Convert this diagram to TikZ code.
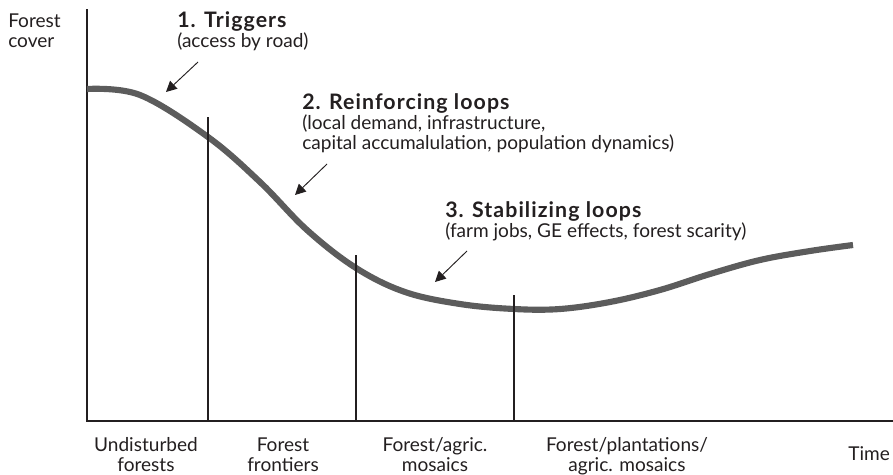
\documentclass[tikz,border=0pt]{standalone}
\usepackage{fontspec}
\setmainfont{Lato}
\usetikzlibrary{arrows.meta,positioning}

\definecolor{ink}{HTML}{231F20}
\definecolor{curvegray}{HTML}{5C5C5C}

\newcommand{\headline}[1]{{\fontsize{16}{15}\selectfont\bfseries\addfontfeatures{LetterSpace=5}#1}}

\begin{document}
\begin{tikzpicture}[x=0.75pt, y=-0.75pt,
    every node/.style={text=ink, font=\fontsize{14.3}{15}\selectfont, inner sep=0pt},
    note/.style={align=left, anchor=base west},
    phase/.style={align=center, anchor=base},
    axis/.style={draw=ink, line width=1.1pt},
    divider/.style={draw=ink, line width=1pt},
    curve/.style={draw=curvegray, line width=4.6pt},
    pointer/.style={draw=ink, line width=0.7pt, -{Triangle[length=8pt, width=8pt]}}
]
\useasboundingbox (0,0) rectangle (893,475);

% axes
\coordinate (top) at (87,9);
\coordinate (O) at (87,421);
\coordinate (right) at (893,421);
\draw[axis] (top) -- (O) -- (right);

% forest cover over time
\draw[curve] plot[smooth, tension=0.6] coordinates {
    (87,89) (140,95) (208,137) (260,182) (307,230) (356,268) (405,292)
    (460,304) (514,309) (560,309) (610,302) (660,290) (710,274)
    (760,260) (810,251) (853,245)};

% phase boundaries
\coordinate (d1) at (208,117);
\coordinate (d2) at (356,255);
\coordinate (d3) at (514,295);
\draw[divider] (d1) -- (d1 |- O);
\draw[divider] (d2) -- (d2 |- O);
\draw[divider] (d3) -- (d3 |- O);

% axis labels (base = last line)
\node[note] (ylabel) at (8,47) {Forest\\cover};
\node[anchor=base west] (xlabel) at (848,460) {Time};

% phases
\node[phase] (undist) at (146,471) {Undisturbed\\forests};
\node[phase] (frontier) at (283,471) {Forest\\frontiers};
\node[phase] (mosaic) at (435,471) {Forest/agric.\\mosaics};
\node[phase] (plant) at (627,471) {Forest/plantations/\\agric. mosaics};

% drivers
\node[note] (trig) at (177,47) {\headline{1. Triggers}\\(access by road)};
\node[note] (reinf) at (302,149) {\headline{2. Reinforcing loops}\\(local demand, infrastructure,\\capital accumalulation, population dynamics)};
\node[note] (stab) at (445,237) {\headline{3. Stabilizing loops}\\(farm jobs, GE effects, forest scarity)};

\coordinate (t1) at (198,62);
\coordinate (h1) at (166,92);
\coordinate (t2) at (327,164);
\coordinate (h2) at (295,195);
\coordinate (t3) at (467,251);
\coordinate (h3) at (435,282);
\draw[pointer] (t1) -- (h1);
\draw[pointer] (t2) -- (h2);
\draw[pointer] (t3) -- (h3);
\end{tikzpicture}
\end{document}
